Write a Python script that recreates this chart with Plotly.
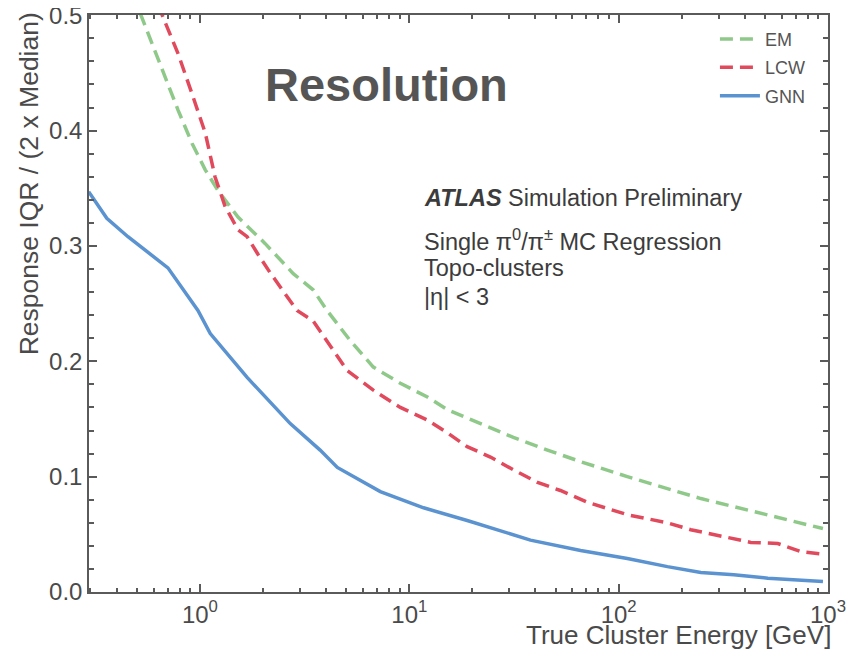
import plotly.graph_objects as go

# ---- data ----
gnn_energy = [0.294, 0.359, 0.453, 0.703, 0.978, 1.12, 1.68, 2.70, 3.75, 4.53, 7.27,
              11.7, 18.9, 24.4, 37.9, 65.8, 110, 171, 247, 355, 516, 946]
gnn_res = [0.347, 0.324, 0.308, 0.281, 0.244, 0.224, 0.186, 0.146, 0.123, 0.108, 0.087,
           0.073, 0.062, 0.056, 0.045, 0.036, 0.029, 0.022, 0.017, 0.015, 0.012, 0.009]

em_energy = [0.478, 0.589, 0.680, 0.785, 0.916, 1.06, 1.22, 1.52, 2.05, 2.79, 3.47, 4.05,
             5.22, 6.73, 9.06, 12.2, 15.2, 21.9, 31.4, 45.7, 65.8, 110, 171, 247, 355,
             516, 946]
em_res = [0.518, 0.476, 0.446, 0.418, 0.389, 0.366, 0.348, 0.325, 0.302, 0.276, 0.262, 0.244,
          0.218, 0.195, 0.181, 0.169, 0.158, 0.146, 0.134, 0.123, 0.113, 0.100, 0.090, 0.081,
          0.074, 0.067, 0.055]

lcw_energy = [0.630, 0.680, 0.785, 0.916, 1.06, 1.18, 1.32, 1.52, 1.68, 1.89, 2.16, 2.61,
              2.91, 3.47, 4.05, 5.05, 6.73, 9.06, 12.2, 15.2, 18.9, 24.4, 31.4, 41.0, 52.7,
              70.5, 110, 171, 221, 298, 428, 576, 743, 926]
lcw_res = [0.509, 0.494, 0.467, 0.432, 0.398, 0.360, 0.334, 0.314, 0.308, 0.293, 0.277, 0.256,
           0.244, 0.235, 0.217, 0.192, 0.175, 0.160, 0.149, 0.138, 0.126, 0.117, 0.106, 0.095,
           0.088, 0.078, 0.067, 0.060, 0.054, 0.049, 0.043, 0.042, 0.035, 0.033]

x_tick_vals = [1, 10, 100, 1000]
x_tick_text = ["10<sup>0</sup>", "10<sup>1</sup>", "10<sup>2</sup>", "10<sup>3</sup>"]

FONT = "Liberation Sans, Arial, sans-serif"
AXIS_COL = "#5a5a5a"
TEXT_COL = "#4a4a4a"

fig = go.Figure()
fig.add_trace(go.Scatter(x=em_energy, y=em_res, mode="lines", name="EM", legendgroup="em",
                         line=dict(color="#8fc98a", width=3.5, dash="13px,7px")))
fig.add_trace(go.Scatter(x=lcw_energy, y=lcw_res, mode="lines", name="LCW", legendgroup="lcw",
                         line=dict(color="#e04a5c", width=3.5, dash="13px,7px")))
fig.add_trace(go.Scatter(x=gnn_energy, y=gnn_res, mode="lines", name="GNN", legendgroup="gnn",
                         line=dict(color="#5b93d0", width=3.5)))

# the page body adds an 8 px offset, so the figure is drawn 8 px smaller
fig.update_layout(
    template="none",
    width=848, height=649,
    margin=dict(l=81, r=28, t=7, b=65, autoexpand=False),
    paper_bgcolor="white", plot_bgcolor="white",
    font=dict(family=FONT, color=TEXT_COL),
    showlegend=True,
    legend=dict(x=0.847, y=0.99, xanchor="left", yanchor="top",
                font=dict(size=18, color="#555555"), bgcolor="rgba(0,0,0,0)",
                itemwidth=40, tracegroupgap=2),
)

fig.update_xaxes(
    type="log", range=[-0.53, 3.0],
    showline=True, linecolor=AXIS_COL, linewidth=1.5, mirror="allticks",
    showgrid=False, zeroline=False, automargin=False,
    ticks="inside", ticklen=8, tickwidth=2, tickcolor=AXIS_COL,
    tickmode="array", tickvals=x_tick_vals, ticktext=x_tick_text,
    tickfont=dict(size=24, color=TEXT_COL), ticklabeloverflow="allow",
    minor=dict(ticks="inside", ticklen=4, tickwidth=1.5, tickcolor=AXIS_COL,
               dtick="D1", showgrid=False),
)
fig.update_yaxes(
    range=[0, 0.5002],
    showline=True, linecolor=AXIS_COL, linewidth=1.5, mirror="allticks",
    showgrid=False, zeroline=False, automargin=False,
    ticks="inside", ticklen=8, tickwidth=2, tickcolor=AXIS_COL,
    tickmode="linear", tick0=0, dtick=0.1, tickformat=".1f",
    tickfont=dict(size=24, color=TEXT_COL), ticklabeloverflow="allow",
    minor=dict(ticks="inside", ticklen=5, tickwidth=1.5, tickcolor=AXIS_COL,
               tickmode="linear", tick0=0, dtick=0.02, showgrid=False),
)

annots = [
    dict(text="<b>Resolution</b>", x=0.402, y=0.880, xanchor="center", yanchor="middle",
         font=dict(size=47, color="#555555", family=FONT), showarrow=False),
    dict(text="<b><i>ATLAS</i></b> Simulation Preliminary", x=0.451, y=0.683,
         xanchor="left", yanchor="middle", font=dict(size=23.5, color="#3c3c3c"), showarrow=False),
    dict(text="Single π<sup>0</sup>/π<sup>±</sup> MC Regression", x=0.451, y=0.610,
         xanchor="left", yanchor="middle", font=dict(size=23.5, color="#3c3c3c"), showarrow=False),
    dict(text="Topo-clusters", x=0.451, y=0.5615,
         xanchor="left", yanchor="middle", font=dict(size=23.5, color="#3c3c3c"), showarrow=False),
    dict(text="|η| < 3", x=0.451, y=0.511,
         xanchor="left", yanchor="middle", font=dict(size=23.5, color="#3c3c3c"), showarrow=False),
    dict(text="True Cluster Energy [GeV]", x=1.007, y=-0.074, xanchor="right", yanchor="middle",
         font=dict(size=26, color=TEXT_COL), showarrow=False),
    dict(text="Response IQR / (2 x Median)", x=-0.080, y=0.708, xanchor="center",
         yanchor="middle", textangle=-90, font=dict(size=26.5, color=TEXT_COL), showarrow=False),
]
for a in annots:
    a["xref"] = "paper"
    a["yref"] = "paper"
    fig.add_annotation(**a)

fig.write_html("out.html")
